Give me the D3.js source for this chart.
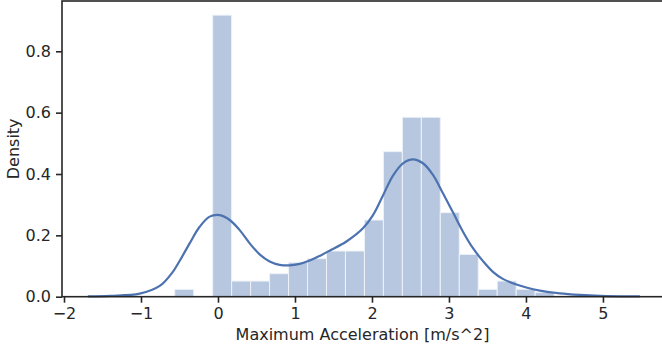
<!DOCTYPE html>
<meta charset="utf-8">
<body style="margin:0;background:#fff">
  <style>
    text { font-family: "DejaVu Sans", sans-serif; fill: #262626; }
    .axis path, .axis line { stroke: #262626; }
    .axis text { font-size: 16px; }
  </style>
  <div id="chart"></div>
  <script src="https://d3js.org/d3.v7.min.js"></script>
  <script>
    // histogram bins (start edge, bin width, density per bin)
    var binStart = -0.562;
    var binWidth = 0.2464;
    var densities = [0.024, 0, 0.918, 0.051, 0.051, 0.075, 0.112, 0.124, 0.149, 0.149,
      0.250, 0.473, 0.585, 0.585, 0.274, 0.138, 0.024, 0.051, 0.024, 0.014];

    // kde curve: x values and densities
    var kdeX = [-1.69, -1.4, -1.017, -0.757, -0.584, -0.497, -0.368, -0.238, -0.108, 0.022,
      0.152, 0.282, 0.412, 0.541, 0.671, 0.801, 0.931, 1.06, 1.19, 1.32,
      1.45, 1.668, 1.883, 2.013, 2.143, 2.273, 2.403, 2.532, 2.662, 2.792,
      2.922, 3.052, 3.182, 3.312, 3.442, 3.571, 3.70, 3.83, 4.005, 4.18,
      4.44, 4.70, 4.96, 5.48];
    var kdeY = [0.001, 0.003, 0.010, 0.035, 0.082, 0.117, 0.174, 0.228, 0.261, 0.266,
      0.250, 0.217, 0.174, 0.138, 0.115, 0.104, 0.102, 0.107, 0.118, 0.133,
      0.150, 0.180, 0.223, 0.266, 0.330, 0.395, 0.435, 0.448, 0.435, 0.397,
      0.337, 0.275, 0.212, 0.158, 0.116, 0.081, 0.058, 0.044, 0.030, 0.020,
      0.011, 0.006, 0.003, 0.001];

    var xTicks = [-2, -1, 0, 1, 2, 3, 4, 5];
    var yTicks = [0, 0.2, 0.4, 0.6, 0.8];

    var W = 662, H = 347;
    var plotL = 62, plotR = 663, plotT = 1, plotB = 296.7;

    var x = d3.scaleLinear().domain([-2.026, 5.78]).range([plotL, plotR]);
    var y = d3.scaleLinear().domain([0, 0.964]).range([plotB, plotT]);

    var svg = d3.select("#chart").append("svg")
      .attr("width", W)
      .attr("height", H);

    var bins = densities.map(function(d, i) {
      return { x0: binStart + i * binWidth, x1: binStart + (i + 1) * binWidth, v: d };
    });

    svg.selectAll("rect.bar")
      .data(bins.filter(function(d) { return d.v > 0; }))
      .enter().append("rect")
      .attr("class", "bar")
      .attr("x", function(d) { return x(d.x0); })
      .attr("width", function(d) { return x(d.x1) - x(d.x0); })
      .attr("y", function(d) { return y(d.v); })
      .attr("height", function(d) { return y(0) - y(d.v); })
      .style("fill", "#b7c7df")
      .style("stroke", "#eef2f8")
      .style("stroke-width", 1);

    var line = d3.line()
      .x(function(d) { return x(d[0]); })
      .y(function(d) { return y(d[1]); })
      .curve(d3.curveCatmullRom.alpha(0.5));

    svg.append("path")
      .datum(d3.zip(kdeX, kdeY))
      .attr("d", line)
      .style("fill", "none")
      .style("stroke", "#4c72b0")
      .style("stroke-width", 2.2);

    // frame
    svg.append("rect")
      .attr("x", plotL).attr("y", plotT)
      .attr("width", plotR - plotL).attr("height", plotB - plotT)
      .style("fill", "none")
      .style("stroke", "#262626")
      .style("stroke-width", 1.6);

    var xAxis = svg.append("g")
      .attr("class", "axis")
      .attr("transform", "translate(0," + plotB + ")")
      .call(d3.axisBottom(x).tickValues(xTicks).tickSize(6).tickPadding(5)
        .tickFormat(function(d) { return d < 0 ? "\u2212" + Math.abs(d) : d; }));
    xAxis.select(".domain").remove();
    xAxis.selectAll("line").style("stroke-width", 1.6);

    var yAxis = svg.append("g")
      .attr("class", "axis")
      .attr("transform", "translate(" + plotL + ",0)")
      .call(d3.axisLeft(y).tickValues(yTicks).tickSize(6).tickPadding(5)
        .tickFormat(d3.format(".1f")));
    yAxis.select(".domain").remove();
    yAxis.selectAll("line").style("stroke-width", 1.6);

    svg.append("text")
      .attr("x", (plotL + plotR) / 2)
      .attr("y", 340)
      .style("text-anchor", "middle")
      .style("font-size", "16px")
      .text("Maximum Acceleration [m/s^2]");

    svg.append("text")
      .attr("transform", "rotate(-90)")
      .attr("x", -(plotT + plotB) / 2)
      .attr("y", 19)
      .style("text-anchor", "middle")
      .style("font-size", "16px")
      .text("Density");
  </script>
